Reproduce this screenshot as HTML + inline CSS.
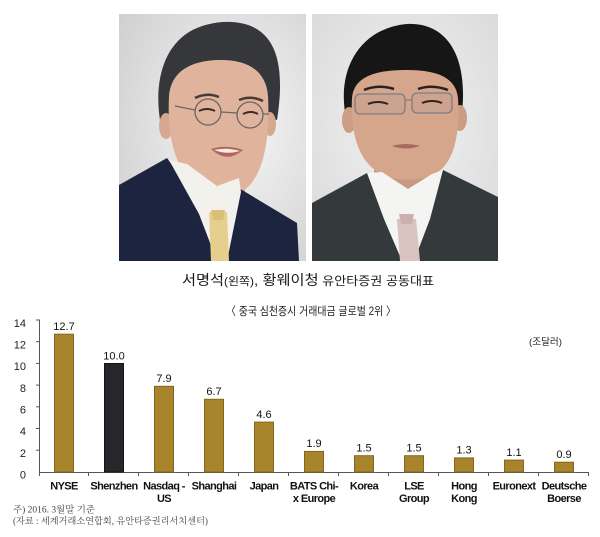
<!DOCTYPE html>
<html>
<head>
<meta charset="utf-8">
<style>
html,body{margin:0;padding:0;background:#fff;}
body{width:600px;height:537px;overflow:hidden;}
svg{display:block;}
.sans{font-family:"Liberation Sans","Noto Sans CJK KR",sans-serif;}
.serif{font-family:"Liberation Serif","Noto Serif CJK SC",serif;}
</style>
</head>
<body>
<svg width="600" height="537" viewBox="0 0 600 537" xmlns="http://www.w3.org/2000/svg">
  <defs>
    <radialGradient id="bg1" cx="0.62" cy="0.45" r="0.75">
      <stop offset="0" stop-color="#f7f7f7"/>
      <stop offset="1" stop-color="#d0d0d0"/>
    </radialGradient>
    <radialGradient id="bg2" cx="0.5" cy="0.45" r="0.75">
      <stop offset="0" stop-color="#f2f2f2"/>
      <stop offset="1" stop-color="#d8d8d8"/>
    </radialGradient>
  </defs>
  <rect width="600" height="537" fill="#fff"/>

  <!-- Photo 1 -->
  <g transform="translate(119,14)">
    <rect width="187" height="247" fill="url(#bg1)"/>
    <path d="M42,112 C34,70 44,34 70,18 C92,5 125,4 142,18 C160,32 165,62 158,106 L150,104 C146,70 130,52 104,50 C78,50 58,62 52,84 L50,112 Z" fill="#36373b"/>
    <ellipse cx="47" cy="112" rx="7" ry="13" fill="#d6a890"/>
    <ellipse cx="151" cy="110" rx="6" ry="12" fill="#d6a890"/>
    <rect x="68" y="150" width="58" height="50" fill="#cf9f88"/>
    <path d="M50,82 C48,122 55,150 74,170 C90,186 116,186 130,172 C146,155 151,120 149,82 C147,56 128,46 102,46 C74,46 52,56 50,82 Z" fill="#e0b49c"/>
    <circle cx="89" cy="98" r="13" fill="none" stroke="#666" stroke-width="1.3"/>
    <circle cx="131" cy="101" r="13" fill="none" stroke="#666" stroke-width="1.3"/>
    <line x1="102" y1="98" x2="118" y2="99" stroke="#666" stroke-width="1.2"/>
    <line x1="76" y1="96" x2="56" y2="92" stroke="#666" stroke-width="1.2"/>
    <line x1="144" y1="100" x2="150" y2="100" stroke="#666" stroke-width="1.2"/>
    <path d="M80,97 q8,-4 16,0" stroke="#3a2a24" stroke-width="2" fill="none"/>
    <path d="M124,100 q8,-4 15,0" stroke="#3a2a24" stroke-width="2" fill="none"/>
    <path d="M76,84 q12,-6 24,-1" stroke="#4a3a34" stroke-width="2.5" fill="none"/>
    <path d="M120,86 q12,-5 24,1" stroke="#4a3a34" stroke-width="2.5" fill="none"/>
    <path d="M92,135 Q108,130 124,136 Q108,150 92,135 Z" fill="#b5645a"/>
    <path d="M95,136 Q108,133 121,137 Q108,141 95,136 Z" fill="#f4eee8"/>
    <path d="M0,171 L48,144 L92,205 L118,173 L178,209 L180,247 L0,247 Z" fill="#1d2440"/>
    <path d="M50,146 L68,150 L98,172 L120,164 L122,178 L108,247 L98,247 L80,200 Z" fill="#f3f1ec"/>
    <path d="M90,198 L108,198 L110,247 L92,247 Z" fill="#e6cf8c"/>
    <path d="M92,196 L106,196 L104,206 L94,206 Z" fill="#d9bf77"/>
  </g>

  <!-- Photo 2 -->
  <g transform="translate(312,14)">
    <rect width="186" height="247" fill="url(#bg2)"/>
    <path d="M33,98 C26,52 50,14 95,10 C136,8 156,44 150,98 L141,90 C138,68 122,58 95,58 C68,58 48,66 42,92 Z" fill="#161616"/>
    <ellipse cx="37" cy="106" rx="7" ry="13" fill="#cc9c84"/>
    <ellipse cx="148" cy="104" rx="7" ry="13" fill="#cc9c84"/>
    <rect x="62" y="145" width="62" height="50" fill="#c89880"/>
    <path d="M40,84 C38,122 48,150 70,160 C86,168 110,168 126,158 C143,146 148,118 146,84 C144,64 126,56 95,56 C64,56 42,62 40,84 Z" fill="#d6a68c"/>
    <rect x="43" y="80" width="50" height="20" rx="5" fill="rgba(150,150,160,0.15)" stroke="#7c7c84" stroke-width="1.3"/>
    <rect x="100" y="79" width="40" height="20" rx="5" fill="rgba(150,150,160,0.15)" stroke="#7c7c84" stroke-width="1.3"/>
    <line x1="93" y1="86" x2="100" y2="86" stroke="#7c7c84" stroke-width="1.2"/>
    <path d="M56,90 q10,-4 20,0" stroke="#2e2420" stroke-width="2" fill="none"/>
    <path d="M110,89 q10,-4 20,0" stroke="#2e2420" stroke-width="2" fill="none"/>
    <path d="M52,76 q14,-6 30,-1" stroke="#2a2020" stroke-width="2.5" fill="none"/>
    <path d="M106,75 q14,-5 30,1" stroke="#2a2020" stroke-width="2.5" fill="none"/>
    <path d="M80,132 Q94,128 108,132 Q94,137 80,132 Z" fill="#a86a60"/>
    <path d="M0,189 L55,159 L90,215 L131,156 L186,183 L186,247 L0,247 Z" fill="#34393c"/>
    <path d="M55,159 L70,158 L96,175 L120,160 L131,156 L118,205 L102,247 L90,247 L72,205 Z" fill="#f4f4f2"/>
    <path d="M85,205 L104,205 L108,247 L88,247 Z" fill="#d9c2c0"/>
    <path d="M87,200 L102,200 L100,210 L89,210 Z" fill="#cbb0ae"/>
  </g>

  <!-- Caption -->
  <text class="sans" x="182" y="285" fill="#1a1a1a" textLength="252" lengthAdjust="spacingAndGlyphs"><tspan font-size="14">서명석</tspan><tspan font-size="11">(왼쪽)</tspan><tspan font-size="14">, 황웨이청</tspan><tspan font-size="12"> 유안타증권 공동대표</tspan></text>

  <!-- Subtitle -->
  <text class="sans" x="226" y="315" font-size="11.5" fill="#222" textLength="170" lengthAdjust="spacingAndGlyphs">〈 중국 심천증시 거래대금 글로벌 2위 〉</text>

  <!-- Unit -->
  <text class="sans" x="529" y="345" font-size="9.5" fill="#222" textLength="33" lengthAdjust="spacingAndGlyphs">(조달러)</text>

  <!-- Y axis -->
  <g class="sans" font-size="11" fill="#222" text-anchor="end">
    <text x="26" y="327">14</text>
    <text x="26" y="348.5">12</text>
    <text x="26" y="370">10</text>
    <text x="26" y="392">8</text>
    <text x="26" y="413.5">6</text>
    <text x="26" y="435">4</text>
    <text x="26" y="457">2</text>
    <text x="26" y="478.5">0</text>
  </g>
  <g stroke="#555" stroke-width="1">
    <line x1="39.5" y1="319.5" x2="39.5" y2="472.5"/>
    <line x1="36" y1="320" x2="39.5" y2="320"/>
    <line x1="36" y1="341.7" x2="39.5" y2="341.7"/>
    <line x1="36" y1="363.4" x2="39.5" y2="363.4"/>
    <line x1="36" y1="385.1" x2="39.5" y2="385.1"/>
    <line x1="36" y1="406.8" x2="39.5" y2="406.8"/>
    <line x1="36" y1="428.5" x2="39.5" y2="428.5"/>
    <line x1="36" y1="450.2" x2="39.5" y2="450.2"/>
    <line x1="39" y1="472.5" x2="589" y2="472.5"/>
    <line x1="39.5" y1="472" x2="39.5" y2="476"/>
    <line x1="88.5" y1="472" x2="88.5" y2="476"/>
    <line x1="138.5" y1="472" x2="138.5" y2="476"/>
    <line x1="188.5" y1="472" x2="188.5" y2="476"/>
    <line x1="238.5" y1="472" x2="238.5" y2="476"/>
    <line x1="288.5" y1="472" x2="288.5" y2="476"/>
    <line x1="338.5" y1="472" x2="338.5" y2="476"/>
    <line x1="388.5" y1="472" x2="388.5" y2="476"/>
    <line x1="438.5" y1="472" x2="438.5" y2="476"/>
    <line x1="488.5" y1="472" x2="488.5" y2="476"/>
    <line x1="538.5" y1="472" x2="538.5" y2="476"/>
    <line x1="588.5" y1="472" x2="588.5" y2="476"/>
  </g>

  <!-- Bars -->
  <g stroke="#86661c" stroke-width="1">
    <rect x="54.5" y="334.2" width="19" height="137.8" fill="#a8842c"/>
    <rect x="104.5" y="363.5" width="19" height="108.5" fill="#25272b" stroke="#151515"/>
    <rect x="154.5" y="386.3" width="19" height="85.7" fill="#a8842c"/>
    <rect x="204.5" y="399.3" width="19" height="72.7" fill="#a8842c"/>
    <rect x="254.5" y="422.1" width="19" height="49.9" fill="#a8842c"/>
    <rect x="304.5" y="451.4" width="19" height="20.6" fill="#a8842c"/>
    <rect x="354.5" y="455.7" width="19" height="16.3" fill="#a8842c"/>
    <rect x="404.5" y="455.7" width="19" height="16.3" fill="#a8842c"/>
    <rect x="454.5" y="457.9" width="19" height="14.1" fill="#a8842c"/>
    <rect x="504.5" y="460.1" width="19" height="11.9" fill="#a8842c"/>
    <rect x="554.5" y="462.2" width="19" height="9.8" fill="#a8842c"/>
  </g>

  <!-- Value labels -->
  <g class="sans" font-size="11" fill="#111" text-anchor="middle">
    <text x="64" y="330">12.7</text>
    <text x="114" y="359.5">10.0</text>
    <text x="164" y="382">7.9</text>
    <text x="214" y="395">6.7</text>
    <text x="264" y="418">4.6</text>
    <text x="314" y="447">1.9</text>
    <text x="364" y="451.5">1.5</text>
    <text x="414" y="451.5">1.5</text>
    <text x="464" y="453.5">1.3</text>
    <text x="514" y="456">1.1</text>
    <text x="564" y="458">0.9</text>
  </g>

  <!-- X labels -->
  <g class="sans" font-size="11" font-weight="bold" fill="#111" text-anchor="middle" letter-spacing="-0.6">
    <text x="64" y="489.5">NYSE</text>
    <text x="114" y="489.5">Shenzhen</text>
    <text x="164" y="489.5">Nasdaq -</text>
    <text x="164" y="502">US</text>
    <text x="214" y="489.5">Shanghai</text>
    <text x="264" y="489.5">Japan</text>
    <text x="314" y="489.5">BATS Chi-</text>
    <text x="314" y="502">x Europe</text>
    <text x="364" y="489.5">Korea</text>
    <text x="414" y="489.5">LSE</text>
    <text x="414" y="502">Group</text>
    <text x="464" y="489.5">Hong</text>
    <text x="464" y="502">Kong</text>
    <text x="514" y="489.5">Euronext</text>
    <text x="564" y="489.5">Deutsche</text>
    <text x="564" y="502">Boerse</text>
  </g>

  <!-- Footnotes -->
  <text class="serif" x="13" y="512.5" font-size="9" fill="#444" textLength="82" lengthAdjust="spacingAndGlyphs">주) 2016. 3월말 기준</text>
  <text class="serif" x="13" y="524" font-size="9" fill="#444" textLength="195" lengthAdjust="spacingAndGlyphs">(자료 : 세계거래소연합회, 유안타증권리서치센터)</text>
</svg>
</body>
</html>
